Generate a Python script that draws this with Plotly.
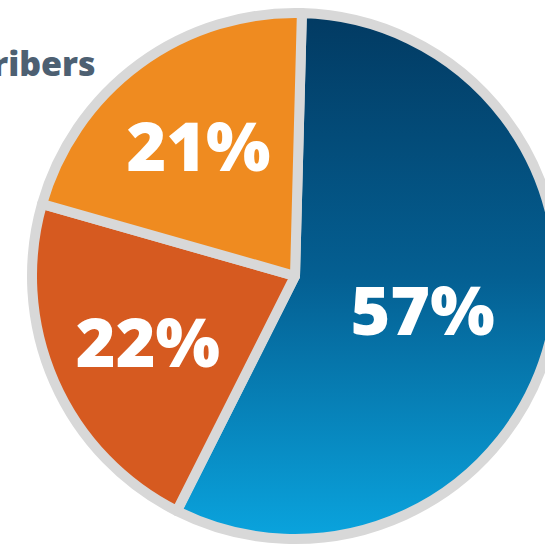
import plotly.graph_objects as go

# ---- data ----
labels = ["Blue", "Dark orange", "Orange"]
values = [57, 22, 21]
text_labels = ["57%", "22%", "21%"]
slice_colors = ["#05669a", "#d65a20", "#ef8b20"]
title_text = "Subscribers"

W, H = 570, 550
cx, cy, r = 295, 276, 263  # pixel centre / radius of pie path

fig = go.Figure(
    go.Pie(
        labels=labels,
        values=values,
        text=text_labels,
        textinfo="text",
        textposition="inside",
        insidetextorientation="horizontal",
        sort=False,
        direction="clockwise",
        rotation=1.5,
        hoverinfo="skip",
        marker=dict(colors=slice_colors, line=dict(color="#d8d8d8", width=10)),
        insidetextfont=dict(family="Open Sans", size=68, color="white", weight=800),
        domain=dict(x=[(cx - r) / W, (cx + r) / W],
                    y=[(H - cy - r) / H, (H - cy + r) / H]),
        showlegend=False,
    )
)

fig.add_annotation(
    text=title_text, xref="paper", yref="paper",
    x=98 / W, y=(H - 63) / H, xanchor="right", yanchor="middle",
    showarrow=False,
    font=dict(family="Open Sans", size=34, color="#4d6072", weight=800),
)

fig.update_layout(
    width=W, height=H,
    margin=dict(l=0, r=0, t=0, b=0),
    paper_bgcolor="white", plot_bgcolor="white",
)

post = """
var gd = document.getElementById('{plot_id}');
document.documentElement.style.overflow = 'hidden';
document.body.style.overflow = 'hidden';
document.body.style.margin = '0';
var ns = 'http://www.w3.org/2000/svg';
var svg = gd.querySelector('svg.main-svg');
var defs = svg.querySelector('defs');
if (!defs) { defs = document.createElementNS(ns, 'defs'); svg.insertBefore(defs, svg.firstChild); }
var lg = document.createElementNS(ns, 'linearGradient');
lg.setAttribute('id', 'blueGrad');
lg.setAttribute('x1', '0'); lg.setAttribute('y1', '0');
lg.setAttribute('x2', '0'); lg.setAttribute('y2', '1');
[['0', '#023a62'], ['0.5', '#045f92'], ['1', '#0aa4de']].forEach(function (s) {
  var st = document.createElementNS(ns, 'stop');
  st.setAttribute('offset', s[0]);
  st.setAttribute('stop-color', s[1]);
  lg.appendChild(st);
});
defs.appendChild(lg);
var p = gd.querySelectorAll('.slice path.surface')[0];
if (p) { p.style.fill = 'url(#blueGrad)'; }
"""

fig.write_html("out.html", post_script=post)
